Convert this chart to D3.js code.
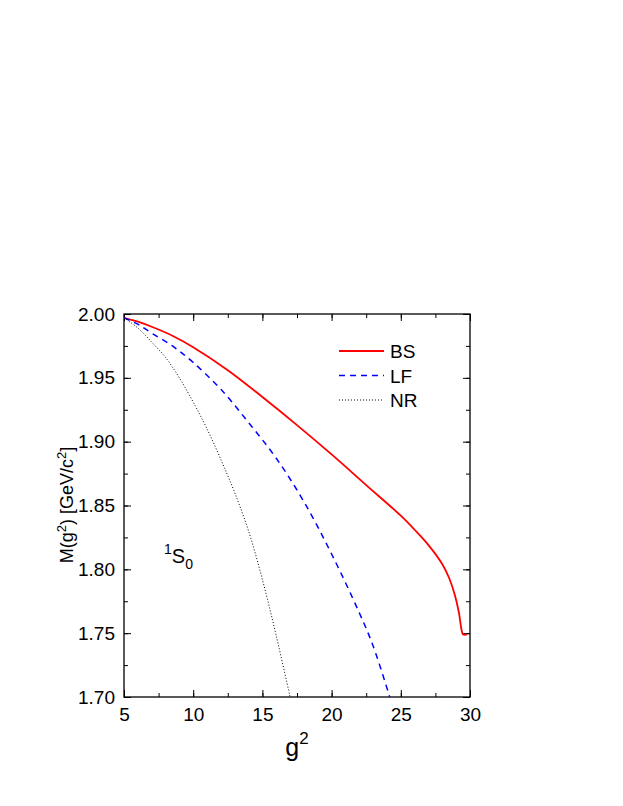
<!DOCTYPE html>
<html><head><meta charset="utf-8">
<script src="https://cdn.jsdelivr.net/npm/d3@7"></script>
<style>body{margin:0;background:#fff}text{font-family:Arial,"Liberation Sans",sans-serif}</style>
</head><body><svg id="c" width="623" height="806"></svg>
<script>
var bsData = [[5,1.997],[6,1.994],[7,1.990],[8.5,1.983],[10,1.974],[12.5,1.956],[15,1.935],[17.5,1.913],[20,1.890],[22.5,1.866],[25,1.842],[26,1.831],[27,1.819],[28,1.804],[28.5,1.793],[28.9,1.780],[29.2,1.766],[29.4,1.752],[29.5,1.749],[29.8,1.749]];
var lfData = [[5,1.997],[6,1.992],[7,1.985],[8.5,1.975],[10,1.962],[12,1.941],[14,1.915],[16,1.887],[18,1.853],[20,1.812],[22,1.766],[23,1.740],[24.2,1.700]];
var nrData = [[5,1.997],[6,1.989],[7,1.978],[8,1.966],[9,1.950],[10,1.931],[11,1.910],[12,1.886],[13,1.860],[14,1.830],[15,1.792],[16,1.748],[17,1.700]];
var xTicks = [5,10,15,20,25,30];
var yTicks = [1.70,1.75,1.80,1.85,1.90,1.95,2.00];

var svg = d3.select("#c");
var L=124,R=470,T=314,B=697;
var x = d3.scaleLinear().domain([5,30]).range([L,R]);
var y = d3.scaleLinear().domain([1.70,2.00]).range([B,T]);
var xMinor = d3.range(5,30.01,2.5), yMinor = d3.range(1.70,2.001,0.025);

function ax(g, axis){ g.call(axis); g.select(".domain").remove(); g.selectAll("line").attr("stroke","#000"); }
ax(svg.append("g").attr("transform","translate(0,"+B+")"), d3.axisBottom(x).tickValues(xTicks).tickSize(-7).tickPadding(11).tickFormat(d3.format("d")));
ax(svg.append("g").attr("transform","translate(0,"+T+")"), d3.axisTop(x).tickValues(xTicks).tickSize(-7).tickFormat(""));
ax(svg.append("g").attr("transform","translate("+L+",0)"), d3.axisLeft(y).tickValues(yTicks).tickSize(-7).tickPadding(9).tickFormat(d3.format(".2f")));
ax(svg.append("g").attr("transform","translate("+R+",0)"), d3.axisRight(y).tickValues(yTicks).tickSize(-7).tickFormat(""));
ax(svg.append("g").attr("transform","translate(0,"+B+")"), d3.axisBottom(x).tickValues(xMinor).tickSize(-4).tickFormat(""));
ax(svg.append("g").attr("transform","translate(0,"+T+")"), d3.axisTop(x).tickValues(xMinor).tickSize(-4).tickFormat(""));
ax(svg.append("g").attr("transform","translate("+L+",0)"), d3.axisLeft(y).tickValues(yMinor).tickSize(-4).tickFormat(""));
ax(svg.append("g").attr("transform","translate("+R+",0)"), d3.axisRight(y).tickValues(yMinor).tickSize(-4).tickFormat(""));
svg.selectAll(".tick text").attr("font-size",19).attr("fill","#000");

svg.append("rect").attr("x",L).attr("y",T).attr("width",R-L).attr("height",B-T).attr("fill","none").attr("stroke","#000").attr("stroke-width",1.3);

var line = d3.line().x(d=>x(d[0])).y(d=>y(d[1])).curve(d3.curveCatmullRom);
svg.append("path").datum(bsData).attr("d",line).attr("fill","none").attr("stroke","#f00").attr("stroke-width",1.8);
svg.append("path").datum(lfData).attr("d",line).attr("fill","none").attr("stroke","#00f").attr("stroke-width",1.5).attr("stroke-dasharray","6,5");
svg.append("path").datum(nrData).attr("d",line).attr("fill","none").attr("stroke","#000").attr("stroke-width",1).attr("stroke-dasharray","1,2");

var leg = [["BS","#f00",null,1.8],["LF","#00f","6,5",1.5],["NR","#000","1,2",1]];
leg.forEach(function(l,i){
  var yy = 351+i*24.5;
  svg.append("line").attr("x1",339).attr("x2",384).attr("y1",yy).attr("y2",yy).attr("stroke",l[1]).attr("stroke-width",l[3]).attr("stroke-dasharray",l[2]);
  svg.append("text").attr("x",390).attr("y",yy+7).attr("font-size",19).text(l[0]);
});

var s = svg.append("text").attr("x",164).attr("y",563).attr("font-size",20);
s.append("tspan").attr("font-size",14).attr("dy",-9).text("1");
s.append("tspan").attr("dy",9).text("S");
s.append("tspan").attr("font-size",14).attr("dy",6).text("0");

var xl = svg.append("text").attr("x",297).attr("y",756).attr("text-anchor","middle").attr("font-size",25);
xl.append("tspan").text("g");
xl.append("tspan").attr("font-size",17).attr("dy",-12).text("2");

var yl = svg.append("text").attr("transform","translate(73,505) rotate(-90)").attr("text-anchor","middle").attr("font-size",18);
yl.append("tspan").text("M(g");
yl.append("tspan").attr("font-size",13).attr("dy",-7).text("2");
yl.append("tspan").attr("dy",7).text(") [GeV/c");
yl.append("tspan").attr("font-size",13).attr("dy",-7).text("2");
yl.append("tspan").attr("dy",7).text("]");
</script></body></html>
